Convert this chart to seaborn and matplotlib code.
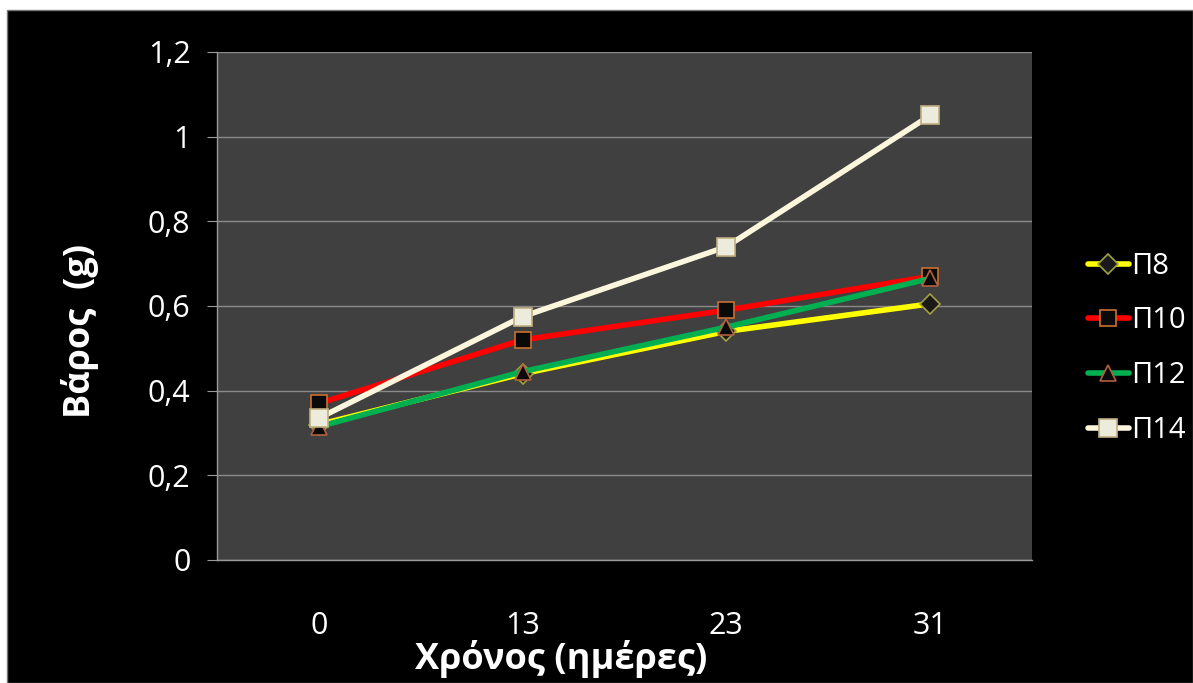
import seaborn as sns
import matplotlib.pyplot as plt
from matplotlib.patches import Rectangle

# data
days = ['0', '13', '23', '31']
p8 = [0.32, 0.44, 0.54, 0.605]
p10 = [0.37, 0.52, 0.59, 0.67]
p12 = [0.315, 0.445, 0.55, 0.665]
p14 = [0.335, 0.575, 0.74, 1.05]
series_names = ['Π8', 'Π10', 'Π12', 'Π14']
y_ticks = [0, 0.2, 0.4, 0.6, 0.8, 1.0, 1.2]
y_tick_labels = ['0', '0,2', '0,4', '0,6', '0,8', '1', '1,2']

sns.set_style('white')
plt.rcParams['font.family'] = ['Open Sans', 'DejaVu Sans']

fig = plt.figure(figsize=(11.93, 6.83), dpi=100)
fig.patch.set_facecolor('white')
# black chart background with a small white margin at top/left
fig.patches.append(Rectangle((0.006, 0), 0.994, 0.985, transform=fig.transFigure,
                             facecolor='black', edgecolor='#777777', lw=1, zorder=-10))

ax = fig.add_axes([0.1819, 0.1801, 0.6831, 0.7438])
ax.set_zorder(5)
ax.set_facecolor('#404040')

styles = [
    # line colour, marker, face, edge, size
    ('#ffff00', 'D', '#1a1a1a', '#a0a040', 10),
    ('#ff0000', 's', '#0a0a0a', '#c87030', 11),
    ('#00b050', '^', '#0a0a0a', '#b06040', 11),
    ('#fbf6dc', 's', '#ecebdc', '#c0b080', 13),
]

for vals, name, (c, m, fc, ec, ms) in zip([p8, p10, p12, p14], series_names, styles):
    sns.lineplot(x=days, y=vals, ax=ax, color=c, marker=m, markersize=ms,
                 markerfacecolor=fc, markeredgecolor=ec, markeredgewidth=1.2,
                 linewidth=4, label=name, sort=False)

ax.set_xlim(-0.5, 3.5)
ax.set_ylim(0, 1.2)
ax.set_yticks(y_ticks)
ax.set_yticklabels(y_tick_labels)
ax.yaxis.grid(True, color='#8a8a8a', linewidth=1)
ax.xaxis.grid(False)
ax.set_axisbelow(True)

for s in ['top', 'right']:
    ax.spines[s].set_visible(False)
for s in ['left', 'bottom']:
    ax.spines[s].set_color('#9a9a9a')
    ax.spines[s].set_linewidth(1)

ax.set_xticks([-0.5, 0.5, 1.5, 2.5, 3.5], minor=True)
ax.tick_params(axis='x', which='major', length=0, pad=37, labelsize=22, labelcolor='white')
ax.tick_params(axis='x', which='minor', length=7, color='#9a9a9a', direction='out')
ax.tick_params(axis='y', length=7, color='#9a9a9a', direction='out', pad=12,
               labelsize=22, labelcolor='white', left=True)

ax.set_xlabel('Χρόνος (ημέρες)', fontsize=26, fontweight='bold', color='white')
ax.xaxis.set_label_coords(0.422, -0.158)
ax.set_ylabel('Βάρος  (g)', fontsize=26, fontweight='bold', color='white')
ax.yaxis.set_label_coords(-0.145, 0.45)

ax.legend(loc='center left', bbox_to_anchor=(0.8995, 0.49), bbox_transform=fig.transFigure,
          frameon=False, fontsize=21, labelcolor='white', handlelength=1.4,
          handletextpad=0.08, labelspacing=0.88, borderpad=0)

fig.savefig('out.png', dpi=100, facecolor=fig.get_facecolor())
